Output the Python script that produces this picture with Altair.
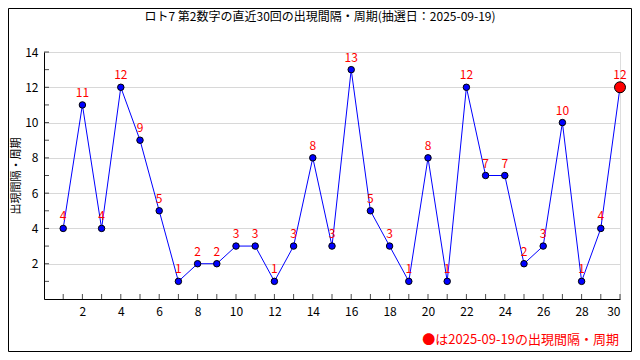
import altair as alt
import pandas as pd

FONT = "Noto Sans CJK JP"

draws = list(range(1, 31))
gaps = [4, 11, 4, 12, 9, 5, 1, 2, 2, 3, 3, 1, 3, 8, 3, 13, 5, 3, 1, 8, 1, 12, 7, 7, 2, 3, 10, 1, 4, 12]
title_text = "ロト7 第2数字の直近30回の出現間隔・周期(抽選日：2025-09-19)"
y_title = "出現間隔・周期"
legend_text = "●は2025-09-19の出現間隔・周期"
x_label_values = list(range(2, 31, 2))
x_tick_values = list(range(1, 31))
y_label_values = list(range(2, 15, 2))
y_tick_values = list(range(1, 15))

df = pd.DataFrame({"draw": draws, "gap": gaps})
last = df.tail(1)

W, H = 576, 247
PL, PT, PR, PB = 36, 44, 12, 53

xs = alt.Scale(domain=[0, 30], nice=False)
ys = alt.Scale(domain=[0, 14], nice=False)

x_axis = alt.Axis(values=x_label_values, title=None, grid=False, ticks=False,
                  domainColor="black", labelColor="black", labelFontSize=12,
                  labelFont=FONT, labelPadding=7)
y_axis = alt.Axis(values=y_label_values, title=y_title, grid=True, gridColor="#d8d8d8",
                  ticks=False, domainColor="black", labelColor="black", labelFontSize=12,
                  labelFont=FONT, labelPadding=6, titleFont=FONT, titleFontSize=11,
                  titleFontWeight="normal", titleColor="black", titlePadding=3)

X = alt.X("draw:Q", scale=xs, axis=x_axis)
Y = alt.Y("gap:Q", scale=ys, axis=y_axis)

base = alt.Chart(df)

line = base.mark_line(color="#0000ff", strokeWidth=1).encode(x=X, y=Y)
pts = base.mark_point(filled=True, fill="#0000ff", stroke="black", strokeWidth=1,
                      size=42, opacity=1).encode(x=X, y=Y)
lastpt = alt.Chart(last).mark_point(filled=True, fill="#ff0000", stroke="black",
                                    strokeWidth=1, size=120, opacity=1).encode(x=X, y=Y)
labels = base.mark_text(color="#ff0000", fontSize=12, font=FONT, dy=-12,
                        baseline="middle").encode(x=X, y=Y, text="gap:Q")

xt = pd.DataFrame({"draw": x_tick_values, "gap": [0] * len(x_tick_values)})
xticks = alt.Chart(xt).mark_tick(orient="vertical", color="black", size=5,
                                  yOffset=-2.5, thickness=1).encode(x=X, y=Y)
yt = pd.DataFrame({"gap": y_tick_values, "draw": [0] * len(y_tick_values)})
yticks = alt.Chart(yt).mark_tick(orient="horizontal", color="black", size=5,
                                  xOffset=2.5, thickness=1).encode(x=X, y=Y)

one = pd.DataFrame({"a": [0]})
border = alt.Chart(one).mark_rect(filled=False, stroke="black", strokeWidth=1).encode(
    x=alt.value(-PL + 0.5), x2=alt.value(W + PR - 0.5),
    y=alt.value(-PT + 0.5), y2=alt.value(H + PB - 0.5))
title = alt.Chart(pd.DataFrame({"t": [title_text]})).mark_text(
    font=FONT, fontSize=12, color="black", align="center", baseline="middle").encode(
    x=alt.value(312 - PL), y=alt.value(-35), text="t:N")
legend = alt.Chart(pd.DataFrame({"t": [legend_text]})).mark_text(
    font=FONT, fontSize=13, color="#ff0000", align="right", baseline="middle").encode(
    x=alt.value(W - 1), y=alt.value(288), text="t:N")

chart = alt.layer(line, border, title, legend, xticks, yticks, pts, lastpt, labels).properties(
    width=W, height=H,
    autosize=alt.AutoSizeParams(type="none"),
    padding={"left": PL, "top": PT, "right": PR, "bottom": PB},
).configure_view(stroke=None).configure(background="white")

chart.save("out.html", embed_options={"renderer": "svg", "actions": False})
